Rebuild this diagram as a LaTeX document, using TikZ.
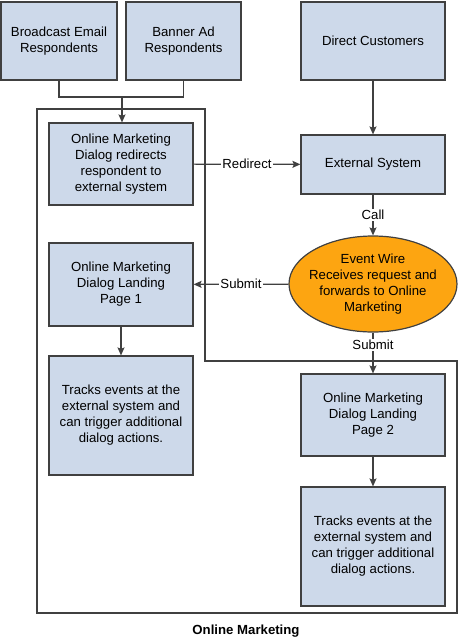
\documentclass[tikz,border=0pt]{standalone}
\usepackage{fontspec}
\setmainfont{Liberation Sans}
\usetikzlibrary{arrows.meta}
\usetikzlibrary{shapes.geometric}
\definecolor{boxblue}{RGB}{205,217,234}
\definecolor{wireorange}{RGB}{253,165,17}
\definecolor{linegray}{RGB}{64,64,64}
\begin{document}
\begin{tikzpicture}[x=1pt, y=-1pt, ->, >={Stealth[length=8pt,width=7pt,inset=1.5pt]},
    line width=1.2pt, draw=linegray, font=\fontsize{13.2}{16}\selectfont,
    box/.style = {draw=linegray, fill=boxblue, align=center, minimum width=144pt, inner sep=2pt},
    wire/.style = {draw=linegray, fill=wireorange, ellipse, align=center, minimum width=168pt, minimum height=96pt, inner sep=-8pt},
    lbl/.style = {fill=white, inner sep=1pt}]
    \useasboundingbox (0,0) rectangle (459,640);

    % Frame
    \draw[-, linegray] (37,109) -- (205,109) -- (205,361) -- (457,361) -- (457,613) -- (37,613) -- cycle;

    % Nodes

    \node[box, minimum width=116pt, minimum height=78pt] (1) at (59,41) {Broadcast Email\\Respondents};
    \node[box, minimum width=115pt, minimum height=78pt] (2) at (183.5,41) {Banner Ad\\Respondents};
    \node[box, minimum height=78pt] (3) at (373,41) {Direct Customers};

    \coordinate (j) at (122,97);

    \node[box, minimum height=82pt] (4) at (121,164) {Online Marketing\\Dialog redirects\\respondent to\\external system};
    \node[box, minimum height=59pt] (5) at (373,164.5) {External System};

    \node[wire] (6) at (373,284) {Event Wire\\Receives request and\\forwards to Online\\Marketing};
    \node[box, minimum height=83pt] (7) at (121,284.5) {Online Marketing\\Dialog Landing\\Page 1};
    \node[box, minimum height=119pt] (8) at (121,415.5) {Tracks events at the\\external system and\\can trigger additional\\dialog actions.};

    \node[box, minimum height=82pt] (9) at (373,415) {Online Marketing\\Dialog Landing\\Page 2};
    \node[box, minimum height=119pt] (10) at (373,546.5) {Tracks events at the\\external system and\\can trigger additional\\dialog actions.};

    \node (b) at (246,631) {\bfseries Online Marketing};

    % Edges

    \draw[-] (1) |- (j);
    \draw[-] (2) |- (j);
    \draw (j) -- (j |- 4.north);
    \draw (3) -- (5);
    \draw (4) -- node[lbl] {Redirect} (5);
    \draw (5) -- node[lbl] {Call} (6);
    \draw (6) -- node[lbl] {Submit} (7);
    \draw (6) -- node[lbl, pos=0.3] {Submit} (9);
    \draw (7) -- (8);
    \draw (9) -- (10);

\end{tikzpicture}
\end{document}
